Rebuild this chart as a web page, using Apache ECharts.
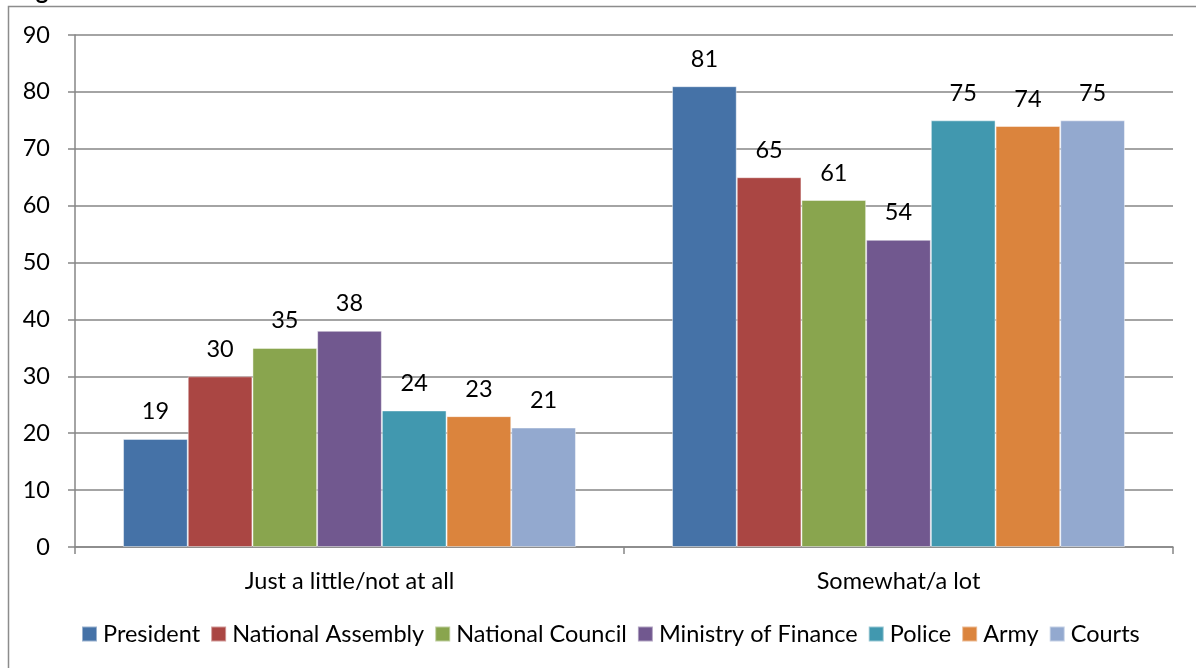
<!DOCTYPE html>
<html>
<head>
<meta charset="utf-8">
<script src="https://cdn.jsdelivr.net/npm/echarts@6/dist/echarts.min.js"></script>
<style>
  html, body { margin: 0; padding: 0; background: #fff; }
  #chart { width: 1196px; height: 668px; }
</style>
</head>
<body>
<div id="chart"></div>
<script>
// Trust ratings by institution, grouped by response
const categories = ['Just a little/not at all', 'Somewhat/a lot'];
const president = [19, 81];
const nationalAssembly = [30, 65];
const nationalCouncil = [35, 61];
const ministryOfFinance = [38, 54];
const police = [24, 75];
const army = [23, 74];
const courts = [21, 75];
const yTicks = { min: 0, max: 90, interval: 10 };

const seriesDefs = [
  ['President', president, '#4572A7'],
  ['National Assembly', nationalAssembly, '#AA4643'],
  ['National Council', nationalCouncil, '#89A54E'],
  ['Ministry of Finance', ministryOfFinance, '#71588F'],
  ['Police', police, '#4198AF'],
  ['Army', army, '#DB843D'],
  ['Courts', courts, '#93A9CF']
];

const FONT = 'Lato, "Open Sans", sans-serif';
const FS = 23.5;
const axisGray = '#868686';

const chart = echarts.init(document.getElementById('chart'), null, { renderer: 'canvas' });
chart.setOption({
  animation: false,
  backgroundColor: '#ffffff',
  textStyle: { fontFamily: FONT, color: '#000' },
  graphic: [
    {
      type: 'rect',
      shape: { x: 8.5, y: 6.5, width: 1220, height: 700 },
      style: { fill: 'none', stroke: '#8c8c8c', lineWidth: 1.5 },
      silent: true,
      z: 10
    },
    {
      type: 'text',
      x: 16,
      y: 3,
      style: {
        text: 'Figure',
        font: 'bold 24px ' + FONT,
        fill: '#000',
        verticalAlign: 'bottom',
        align: 'left'
      },
      silent: true
    }
  ],
  grid: { left: 75, right: 23, top: 35, bottom: 121, containLabel: false },
  legend: {
    bottom: 17,
    left: 76,
    itemWidth: 15,
    itemHeight: 15,
    itemGap: 10,
    icon: 'rect',
    textStyle: { fontFamily: FONT, fontSize: FS, color: '#000', padding: [0, 0, 0, 1] },
    data: seriesDefs.map(d => d[0])
  },
  xAxis: {
    type: 'category',
    data: categories,
    axisLine: { lineStyle: { color: axisGray, width: 1.5 } },
    axisTick: { show: true, length: 7, lineStyle: { color: axisGray, width: 1.5 } },
    axisLabel: { fontFamily: FONT, fontSize: FS, color: '#000', margin: 22 }
  },
  yAxis: {
    type: 'value',
    min: yTicks.min,
    max: yTicks.max,
    interval: yTicks.interval,
    axisLine: { show: true, lineStyle: { color: axisGray, width: 1.5 } },
    axisTick: { show: true, length: 7, lineStyle: { color: axisGray, width: 1.5 } },
    splitLine: { lineStyle: { color: axisGray, width: 1.5 } },
    axisLabel: { fontFamily: FONT, fontSize: FS, color: '#000', margin: 25 }
  },
  series: seriesDefs.map(([name, values, color]) => ({
    name,
    type: 'bar',
    data: values,
    barGap: '0%',
    barCategoryGap: '17.5%',
    itemStyle: { color, borderColor: 'rgba(255,255,255,0.45)', borderWidth: 1 },
    label: {
      show: true,
      position: 'top',
      distance: 15,
      fontFamily: FONT,
      fontSize: FS,
      color: '#000'
    }
  }))
});
</script>
</body>
</html>
